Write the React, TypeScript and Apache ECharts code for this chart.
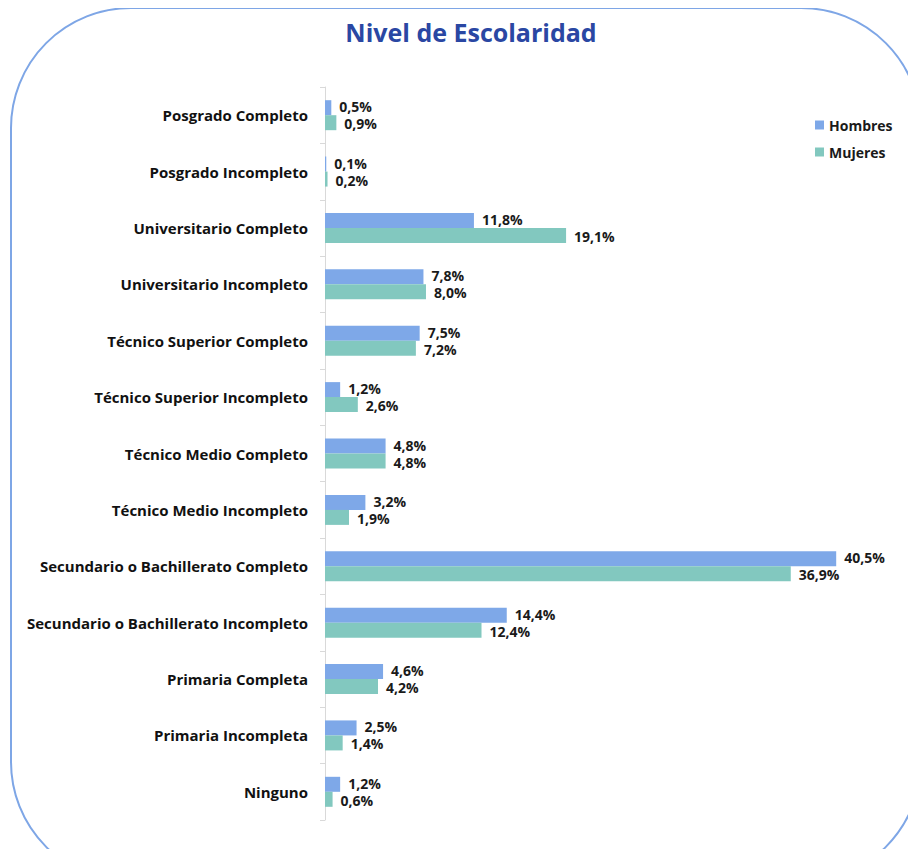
import React, { useEffect, useRef } from "react";
import * as echarts from "echarts";

const categories = [
  "Posgrado Completo",
  "Posgrado Incompleto",
  "Universitario Completo",
  "Universitario Incompleto",
  "Técnico Superior Completo",
  "Técnico Superior Incompleto",
  "Técnico Medio Completo",
  "Técnico Medio Incompleto",
  "Secundario o Bachillerato Completo",
  "Secundario o Bachillerato Incompleto",
  "Primaria Completa",
  "Primaria Incompleta",
  "Ninguno",
];
const hombres = [0.5, 0.1, 11.8, 7.8, 7.5, 1.2, 4.8, 3.2, 40.5, 14.4, 4.6, 2.5, 1.2];
const mujeres = [0.9, 0.2, 19.1, 8.0, 7.2, 2.6, 4.8, 1.9, 36.9, 12.4, 4.2, 1.4, 0.6];
const seriesNames = ["Hombres", "Mujeres"];
const title = "Nivel de Escolaridad";

const FONT = "'Open Sans', Lato, sans-serif";

export default function App() {
  const ref = useRef<HTMLDivElement>(null);
  useEffect(() => {
    if (!ref.current) return;
    const chart = echarts.init(ref.current, null, { renderer: "svg" });
    const fmt = (p: any) => p.value.toFixed(1).replace(".", ",") + "%";
    const mkLabel = (dy: number) => ({
      show: true,
      position: "right" as const,
      distance: 8,
      offset: [0, dy],
      formatter: fmt,
      fontFamily: FONT,
      fontWeight: "bold" as const,
      fontSize: 14,
      lineHeight: 14,
      color: "#1a1a1a",
    });
    chart.setOption({
      animation: false,
      backgroundColor: "#ffffff",
      title: {
        text: title,
        left: 466,
        textAlign: "center",
        top: 14,
        textStyle: {
          fontFamily: FONT,
          fontWeight: "bold",
          fontSize: 25,
          color: "#2a47a3",
        },
      },
      graphic: [
        {
          type: "rect",
          shape: { x: 11, y: 8, width: 910, height: 874, r: 120 },
          style: { fill: "none", stroke: "#7ea6e6", lineWidth: 2 },
          z: -1,
        },
      ],
      legend: {
        orient: "vertical",
        left: 810,
        top: 113,
        itemWidth: 9,
        itemHeight: 9,
        itemGap: 13,
        icon: "rect",
        data: seriesNames,
        textStyle: {
          fontFamily: FONT,
          fontWeight: "bold",
          fontSize: 14,
          color: "#1a1a1a",
        },
      },
      grid: { left: 325, top: 87, width: 568, height: 733 },
      xAxis: {
        type: "value",
        min: 0,
        max: 45,
        show: false,
        splitLine: { show: false },
      },
      yAxis: {
        type: "category",
        inverse: true,
        data: categories,
        axisLine: { show: true, lineStyle: { color: "#d9d9d9", width: 1 } },
        axisTick: { show: true, length: 5, lineStyle: { color: "#d9d9d9" } },
        axisLabel: {
          margin: 17,
          fontFamily: FONT,
          fontWeight: "bold",
          fontSize: 15,
          color: "#111111",
        },
      },
      series: [
        {
          name: seriesNames[0],
          type: "bar",
          data: hombres,
          barWidth: 15,
          barGap: "0%",
          itemStyle: { color: "#7ea8e8" },
          label: mkLabel(-1),
        },
        {
          name: seriesNames[1],
          type: "bar",
          data: mujeres,
          barWidth: 15,
          barGap: "0%",
          itemStyle: { color: "#82c8bf" },
          label: mkLabel(1),
        },
      ],
    });
    return () => chart.dispose();
  }, []);
  return <div ref={ref} style={{ width: 916, height: 857, margin: -8 }} />;
}
